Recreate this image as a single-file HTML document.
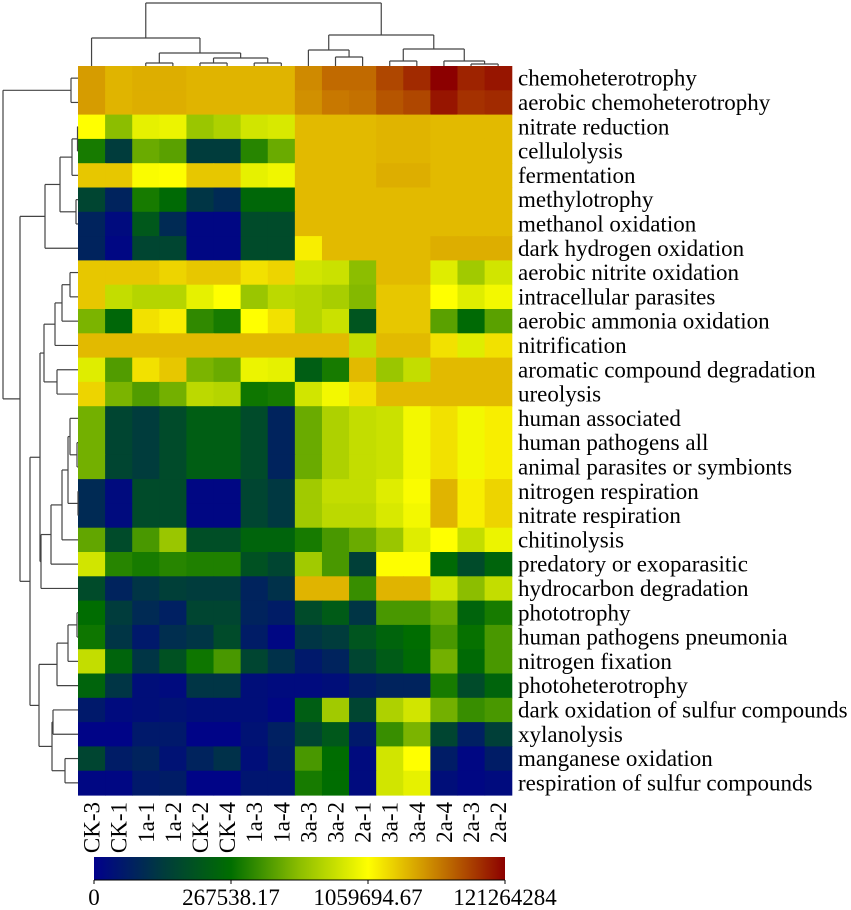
<!DOCTYPE html>
<html><head><meta charset="utf-8">
<style>
html,body{margin:0;padding:0;background:#fff;}
svg{display:block;font-family:"Liberation Serif",serif;}
</style></head>
<body>
<svg id="chart" width="851" height="910" viewBox="0 0 851 910" xmlns="http://www.w3.org/2000/svg">
<defs>
<linearGradient id="cbar" x1="0" x2="1" y1="0" y2="0">
<stop offset="0" stop-color="#00008c"/>
<stop offset="0.17" stop-color="#003c3c"/>
<stop offset="0.333" stop-color="#006e00"/>
<stop offset="0.5" stop-color="#8cbe00"/>
<stop offset="0.667" stop-color="#ffff00"/>
<stop offset="0.83" stop-color="#c88200"/>
<stop offset="1" stop-color="#8c0000"/>
</linearGradient>
</defs>
<g id="cells"></g>
<g id="rowLabels"></g>
<g id="colLabels"></g>
<g id="dendro"></g>
<g>
<rect x="94" y="857" width="411" height="23" fill="url(#cbar)"/>
<line x1="94" y1="880" x2="505" y2="880" stroke="#000" stroke-width="1"/>
<g id="cbTicks"></g>
</g>
</svg>
<script>
const columns = ["CK-3","CK-1","1a-1","1a-2","CK-2","CK-4","1a-3","1a-4","3a-3","3a-2","2a-1","3a-1","3a-4","2a-4","2a-3","2a-2"];
const rows = ["chemoheterotrophy","aerobic chemoheterotrophy","nitrate reduction","cellulolysis","fermentation","methylotrophy","methanol oxidation","dark hydrogen oxidation","aerobic nitrite oxidation","intracellular parasites","aerobic ammonia oxidation","nitrification","aromatic compound degradation","ureolysis","human associated","human pathogens all","animal parasites or symbionts","nitrogen respiration","nitrate respiration","chitinolysis","predatory or exoparasitic","hydrocarbon degradation","phototrophy","human pathogens pneumonia","nitrogen fixation","photoheterotrophy","dark oxidation of sulfur compounds","xylanolysis","manganese oxidation","respiration of sulfur compounds"];
const values = [
[0.77,0.73,0.74,0.74,0.73,0.73,0.73,0.73,0.80,0.85,0.85,0.90,0.94,1.00,0.95,0.97],
[0.77,0.73,0.74,0.74,0.73,0.73,0.73,0.73,0.79,0.83,0.84,0.88,0.90,0.97,0.93,0.94],
[0.667,0.50,0.63,0.64,0.52,0.55,0.60,0.61,0.72,0.72,0.72,0.73,0.73,0.72,0.72,0.72],
[0.36,0.17,0.46,0.44,0.17,0.17,0.38,0.46,0.72,0.72,0.72,0.73,0.73,0.72,0.72,0.72],
[0.71,0.71,0.66,0.665,0.71,0.71,0.63,0.645,0.72,0.72,0.72,0.74,0.74,0.72,0.72,0.72],
[0.20,0.10,0.36,0.32,0.15,0.12,0.31,0.31,0.72,0.72,0.72,0.72,0.72,0.72,0.72,0.72],
[0.10,0.03,0.26,0.12,0.02,0.02,0.22,0.22,0.72,0.72,0.72,0.72,0.72,0.72,0.72,0.72],
[0.10,0.02,0.20,0.20,0.02,0.02,0.22,0.22,0.68,0.72,0.72,0.72,0.72,0.74,0.74,0.74],
[0.71,0.71,0.71,0.70,0.71,0.71,0.69,0.70,0.60,0.59,0.50,0.72,0.72,0.62,0.53,0.60],
[0.71,0.58,0.56,0.56,0.63,0.667,0.52,0.57,0.56,0.54,0.49,0.71,0.71,0.667,0.62,0.65],
[0.48,0.31,0.69,0.68,0.39,0.36,0.667,0.69,0.56,0.59,0.25,0.71,0.71,0.44,0.32,0.44],
[0.72,0.72,0.72,0.72,0.72,0.72,0.72,0.72,0.72,0.72,0.58,0.72,0.72,0.69,0.62,0.69],
[0.62,0.43,0.69,0.71,0.48,0.46,0.64,0.63,0.28,0.36,0.72,0.52,0.58,0.72,0.72,0.72],
[0.70,0.48,0.43,0.47,0.57,0.56,0.35,0.36,0.60,0.65,0.69,0.72,0.72,0.72,0.72,0.72],
[0.47,0.20,0.17,0.22,0.28,0.28,0.22,0.10,0.46,0.55,0.58,0.59,0.65,0.69,0.65,0.68],
[0.47,0.20,0.17,0.22,0.28,0.28,0.22,0.10,0.46,0.55,0.58,0.59,0.65,0.69,0.65,0.68],
[0.47,0.20,0.17,0.22,0.28,0.28,0.22,0.10,0.46,0.55,0.58,0.59,0.65,0.69,0.65,0.68],
[0.12,0.03,0.22,0.22,0.02,0.02,0.20,0.16,0.53,0.58,0.58,0.62,0.66,0.73,0.68,0.70],
[0.12,0.03,0.22,0.22,0.02,0.02,0.20,0.16,0.53,0.57,0.57,0.61,0.65,0.73,0.68,0.70],
[0.45,0.22,0.42,0.52,0.23,0.23,0.30,0.30,0.36,0.42,0.46,0.52,0.62,0.667,0.58,0.64],
[0.60,0.38,0.36,0.38,0.37,0.37,0.24,0.20,0.53,0.42,0.18,0.665,0.665,0.32,0.22,0.30],
[0.22,0.10,0.15,0.18,0.17,0.17,0.10,0.14,0.73,0.73,0.40,0.73,0.73,0.60,0.50,0.58],
[0.33,0.17,0.12,0.09,0.20,0.20,0.10,0.08,0.22,0.27,0.15,0.42,0.42,0.46,0.30,0.36],
[0.35,0.15,0.07,0.13,0.15,0.22,0.08,0.02,0.15,0.17,0.25,0.30,0.33,0.42,0.34,0.42],
[0.58,0.30,0.15,0.24,0.35,0.42,0.20,0.14,0.07,0.10,0.20,0.27,0.32,0.47,0.32,0.42],
[0.30,0.15,0.04,0.03,0.15,0.15,0.04,0.03,0.03,0.04,0.08,0.10,0.10,0.36,0.22,0.30],
[0.07,0.03,0.04,0.05,0.04,0.04,0.04,0.02,0.28,0.53,0.20,0.55,0.60,0.47,0.40,0.42],
[0.01,0.01,0.07,0.07,0.01,0.01,0.05,0.09,0.20,0.26,0.07,0.40,0.48,0.20,0.09,0.18],
[0.20,0.08,0.10,0.05,0.10,0.14,0.04,0.08,0.42,0.33,0.03,0.60,0.667,0.08,0.02,0.08],
[0.02,0.02,0.07,0.08,0.01,0.01,0.06,0.06,0.36,0.33,0.03,0.60,0.63,0.04,0.02,0.03]
];
const tickLabels = ["0","267538.17","1059694.67","121264284"];
const tickFractions = [0,1/3,2/3,1];

const NS="http://www.w3.org/2000/svg";
const X0=78, X1=511.7, Y0=66, Y1=795;
const cw=(X1-X0)/columns.length, rh=(Y1-Y0)/rows.length;
function xAt(i){return X0+cw*i;}
function yAt(i){return Y0+rh*i;}
function colC(i){return X0+cw*(i+0.5);}
function rowC(i){return Y0+rh*(i+0.5);}
const stops=[[0,[0,0,140]],[0.17,[0,60,60]],[0.333,[0,110,0]],[0.5,[140,190,0]],[0.667,[255,255,0]],[0.72,[226,186,0]],[0.83,[200,120,0]],[1,[140,0,0]]];
function cmap(t){
  t=Math.max(0,Math.min(1,t));
  for(let k=1;k<stops.length;k++){
    if(t<=stops[k][0]){
      const a=stops[k-1],b=stops[k],f=(t-a[0])/(b[0]-a[0]);
      const c=a[1].map((v,j)=>Math.round(v+(b[1][j]-v)*f));
      return "rgb("+c.join(",")+")";
    }
  }
  return "rgb(140,0,0)";
}
function mk(tag,attrs,parent){const e=document.createElementNS(NS,tag);for(const k in attrs)e.setAttribute(k,attrs[k]);parent.appendChild(e);return e;}

const cells=document.getElementById("cells");
values.forEach((row,r)=>row.forEach((v,c)=>{
  const el=mk("rect",{x:xAt(c),y:yAt(r),width:cw+0.6,height:rh+0.6,fill:cmap(v)},cells);
  
  
}));
const rl=document.getElementById("rowLabels");
rows.forEach((name,r)=>{
  const t=mk("text",{x:518,y:rowC(r)+7.5,"font-size":"23",fill:"#000"},rl);
  t.textContent=name;
  
  
});
const cl=document.getElementById("colLabels");
columns.forEach((name,c)=>{
  const x=colC(c)+8, y=802;
  const t=mk("text",{x:x,y:y,"font-size":"23","text-anchor":"end",transform:"rotate(-90 "+x+" "+y+")",fill:"#000"},cl);
  t.textContent=name;
  
  
});
const cb=document.getElementById("cbTicks");
tickLabels.forEach((lab,i)=>{
  const x=94+411*tickFractions[i];
  const ln=mk("line",{x1:x,y1:880,x2:x,y2:884,stroke:"#000","stroke-width":1},cb);
  
  
  const t=mk("text",{x:x,y:905,"font-size":"23","text-anchor":"middle",fill:"#000"},cb);
  t.textContent=lab;
  
  
});

const dg=document.getElementById("dendro");
function line(x1,y1,x2,y2){
  const l=mk("line",{x1:x1,y1:y1,x2:x2,y2:y2,stroke:"#444","stroke-width":1.2},dg);
  
  
}
function J(a,b,h){return {a:a,b:b,h:h};}
const rowTree=J(J(0,1,71),
  J(J(J(J(J(2,3,77.5),4,72),J(5,6,76),60),7,45),
    J(J(J(J(J(J(8,9,70),10,62),11,55),J(12,13,57),44),
          J(J(J(J(J(14,J(15,16,77),70),J(17,18,78),68),19,62),20,51),21,41),40),
      J(J(J(J(J(22,23,77),24,68),25,57)),J(J(26,27,53),J(28,29,65),52),39),30),20),3);
function fixTree(n){ if(typeof n==="number")return n; if(n.b===undefined){return fixTree(n.a);} n.a=fixTree(n.a);n.b=fixTree(n.b);return n;}
function drawRow(n){
  if(typeof n==="number")return {p:rowC(n),h:X0};
  const A=drawRow(n.a),B=drawRow(n.b);
  line(n.h,A.p,A.h,A.p);line(n.h,B.p,B.h,B.p);line(n.h,A.p,n.h,B.p);
  return {p:(A.p+B.p)/2,h:n.h};
}
drawRow(fixTree(rowTree));
const colTree=J(J(0,J(J(2,3,63),J(J(4,5,63),J(6,7,63),58),53),38),
  J(J(8,J(9,10,57),50),J(J(11,12,61),J(13,J(14,15,64),61),49),35),3);
function drawCol(n){
  if(typeof n==="number")return {p:colC(n),h:Y0};
  const A=drawCol(n.a),B=drawCol(n.b);
  line(A.p,n.h,A.p,A.h);line(B.p,n.h,B.p,B.h);line(A.p,n.h,B.p,n.h);
  return {p:(A.p+B.p)/2,h:n.h};
}
drawCol(colTree);
</script>
</body></html>
